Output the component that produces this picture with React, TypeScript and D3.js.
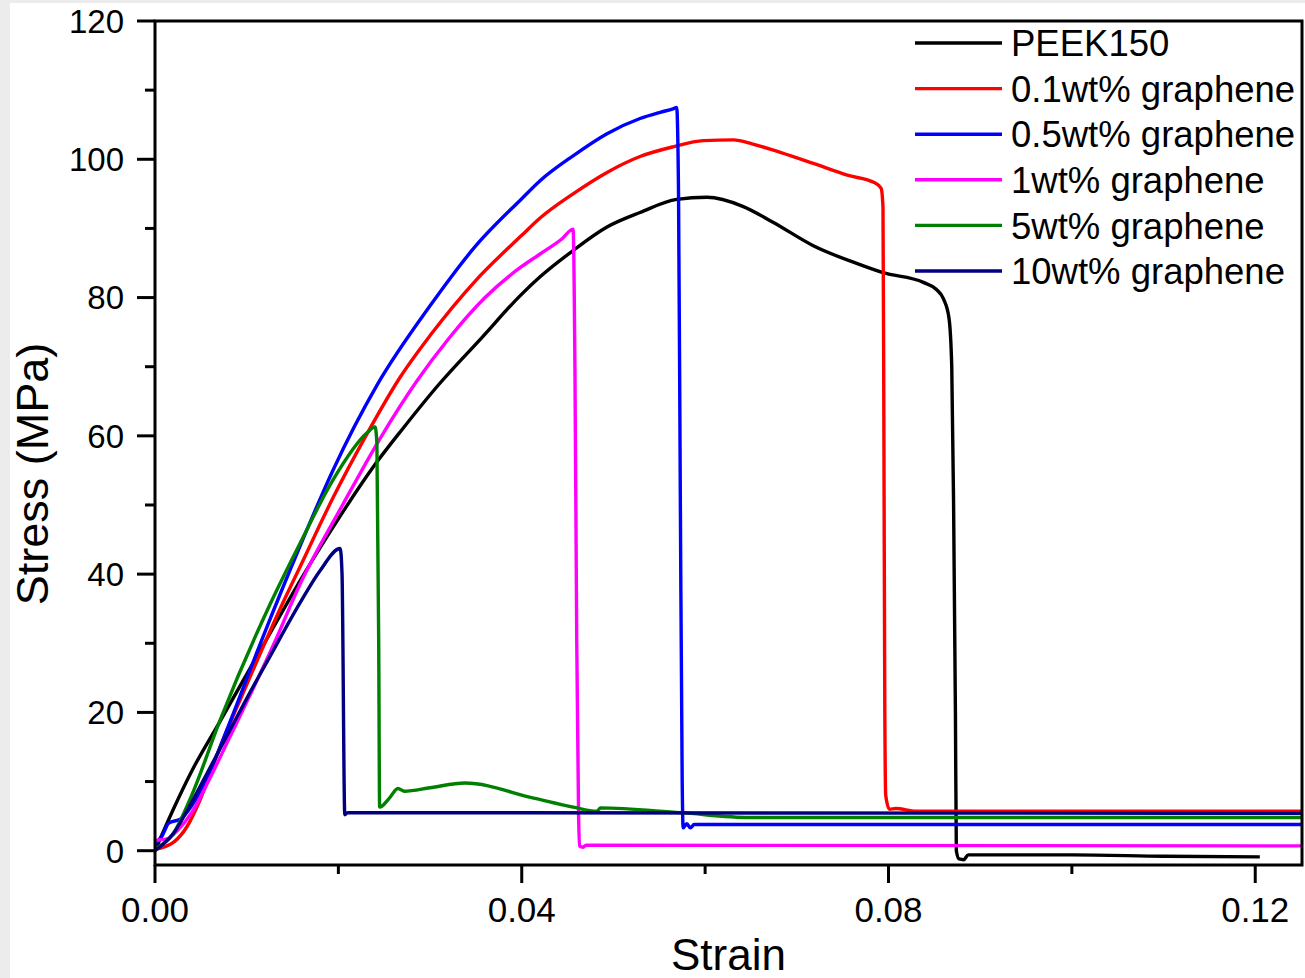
import React from "react";
import * as d3 from "d3";

type Pt = [number, number];

const seriesNames = ["PEEK150", "0.1wt% graphene", "0.5wt% graphene", "1wt% graphene", "5wt% graphene", "10wt% graphene"];
const seriesColors = ["#000000", "#ff0000", "#0000ff", "#ff00ff", "#008000", "#000080"];

const peek150: Pt[] = [[0,0],[0.002,6],[0.004,11.5],[0.007,18.5],[0.01,25.5],[0.013,32.5],[0.0158,39],[0.02,48],[0.0238,55.5],[0.027,61],[0.031,67.5],[0.0355,74],[0.04,80.5],[0.042,83],[0.0456,86.8],[0.0493,90.2],[0.0529,92.3],[0.0569,94.2],[0.0602,94.5],[0.0641,93.2],[0.0674,90.9],[0.0718,87.5],[0.0766,84.9],[0.0794,83.6],[0.0838,82.2],[0.0852,81.2],[0.086,79.8],[0.0866,77],[0.0869,70],[0.0871,50],[0.0873,20],[0.0874,0],[0.0877,-1.2],[0.0882,-1.3],[0.0887,-0.6],[0.10,-0.6],[0.11,-0.8],[0.1205,-0.9]];
const g01: Pt[] = [[0,0.2],[0.002,1.2],[0.0035,3.5],[0.0049,7.3],[0.0071,15],[0.01,24],[0.014,36],[0.0158,41],[0.0194,51],[0.023,60],[0.0267,68.4],[0.03,74.5],[0.035,82.5],[0.04,89],[0.042,91.5],[0.0456,95],[0.0493,98.1],[0.0529,100.4],[0.0565,101.8],[0.0598,102.7],[0.0631,102.8],[0.0652,102.2],[0.0682,101],[0.0718,99.4],[0.0755,97.7],[0.0785,96.6],[0.0792,95.8],[0.0794,93],[0.0795,60],[0.0796,20],[0.0797,8],[0.0801,6],[0.0808,6.1],[0.083,5.7],[0.125,5.7]];
const g05: Pt[] = [[0,1],[0.0008,2.2],[0.0015,4],[0.0028,4.6],[0.004,6.5],[0.006,11.5],[0.008,18],[0.0115,30],[0.0158,44],[0.0194,55],[0.0242,67.3],[0.03,78.8],[0.035,87.5],[0.04,94.3],[0.042,96.9],[0.0456,100.5],[0.0493,103.7],[0.0529,105.9],[0.0551,106.8],[0.0565,107.3],[0.0569,107.5],[0.0571,95],[0.0573,50],[0.0575,10],[0.0576,3.3],[0.058,3.9],[0.0584,3.3],[0.0588,3.8],[0.125,3.8]];
const g1: Pt[] = [[0,1.5],[0.0013,1.7],[0.0025,3],[0.004,5.5],[0.006,10.5],[0.008,16],[0.01,21.5],[0.013,30],[0.0158,38.5],[0.0205,50.1],[0.0245,59.5],[0.0286,68],[0.032,74],[0.036,80],[0.04,84.5],[0.042,86.3],[0.0444,88.5],[0.0456,89.9],[0.0458,70],[0.046,30],[0.0462,5],[0.0463,0.7],[0.0467,0.5],[0.047,0.8],[0.125,0.7]];
const g5: Pt[] = [[0,0.3],[0.002,2.5],[0.004,8],[0.0071,18.9],[0.0125,35.5],[0.0158,44.4],[0.0194,53.6],[0.0231,60.4],[0.024,61.3],[0.0242,59],[0.0244,30],[0.0245,6.3],[0.0255,7.5],[0.0265,9],[0.0272,8.6],[0.03,9.1],[0.0338,9.8],[0.0413,7.6],[0.0456,6.3],[0.0482,5.7],[0.0486,6.2],[0.0573,5.5],[0.0649,4.8],[0.125,4.8]];
const g10: Pt[] = [[0,0],[0.002,2.5],[0.004,7],[0.006,12],[0.008,17],[0.01,22],[0.0125,28],[0.0158,35.8],[0.018,40.5],[0.0202,43.7],[0.0204,40],[0.0207,5.2],[0.021,5.5],[0.125,5.4]];

const allSeries = [peek150, g01, g05, g1, g5, g10];

const xMajorTicks = [0, 0.04, 0.08, 0.12];
const xMinorTicks = [0.02, 0.06, 0.1];
const yMajorTicks = [0, 20, 40, 60, 80, 100, 120];
const yMinorTicks = [10, 30, 50, 70, 90, 110];

const W = 1305, H = 978;
const L = 155, R = 1302, T = 21, B = 865;
const FONT = "'Liberation Sans', Arial, Helvetica, sans-serif";

export default function App() {
  const x = d3.scaleLinear().domain([0, 0.1251]).range([L, R]);
  const y = d3.scaleLinear().domain([0, 120]).range([850.7, 21]);
  const line = d3.line<Pt>().x(d => x(d[0])).y(d => y(d[1])).curve(d3.curveMonotoneX);
  const fmt = d3.format(".2f");

  return (
    <svg width={W} height={H} style={{ position: "absolute", left: 0, top: 0 }} xmlns="http://www.w3.org/2000/svg">
      <rect x={0} y={0} width={W} height={H} fill="#ececec" />
      <rect x={10} y={3} width={W - 10} height={H - 3} fill="#ffffff" />
      <defs>
        <clipPath id="plotclip">
          <rect x={L} y={T} width={R - L} height={B - T} />
        </clipPath>
      </defs>
      <g clipPath="url(#plotclip)">
        {allSeries.map((s, i) => (
          <path key={i} d={line(s) || ""} fill="none" stroke={seriesColors[i]} strokeWidth={3.4} strokeLinejoin="round" />
        ))}
      </g>
      <rect x={L} y={T} width={R - L} height={B - T} fill="none" stroke="#000" strokeWidth={3} />
      {yMajorTicks.map(t => (
        <g key={"ym" + t}>
          <line x1={137} x2={L} y1={y(t)} y2={y(t)} stroke="#000" strokeWidth={3} />
          <text x={124} y={y(t)} dy="0.36em" textAnchor="end" fontFamily={FONT} fontSize={33} fill="#000">{t}</text>
        </g>
      ))}
      {yMinorTicks.map(t => (
        <line key={"yn" + t} x1={145} x2={L} y1={y(t)} y2={y(t)} stroke="#000" strokeWidth={3} />
      ))}
      {xMajorTicks.map(t => (
        <g key={"xm" + t}>
          <line x1={x(t)} x2={x(t)} y1={B} y2={B + 18} stroke="#000" strokeWidth={3} />
          <text x={x(t)} y={922} textAnchor="middle" fontFamily={FONT} fontSize={35} fill="#000">{fmt(t)}</text>
        </g>
      ))}
      {xMinorTicks.map(t => (
        <line key={"xn" + t} x1={x(t)} x2={x(t)} y1={B} y2={B + 9} stroke="#000" strokeWidth={3} />
      ))}
      <text x={(L + R) / 2} y={970} textAnchor="middle" fontFamily={FONT} fontSize={44} fill="#000">Strain</text>
      <text transform={`translate(48, 474) rotate(-90)`} textAnchor="middle" fontFamily={FONT} fontSize={45} fill="#000">Stress (MPa)</text>
      {seriesNames.map((n, i) => {
        const cy = 43 + i * 45.6;
        return (
          <g key={n}>
            <line x1={915} x2={1002} y1={cy} y2={cy} stroke={seriesColors[i]} strokeWidth={3.4} />
            <text x={1011} y={cy} dy="0.36em" fontFamily={FONT} fontSize={36.5} fill="#000">{n}</text>
          </g>
        );
      })}
    </svg>
  );
}
